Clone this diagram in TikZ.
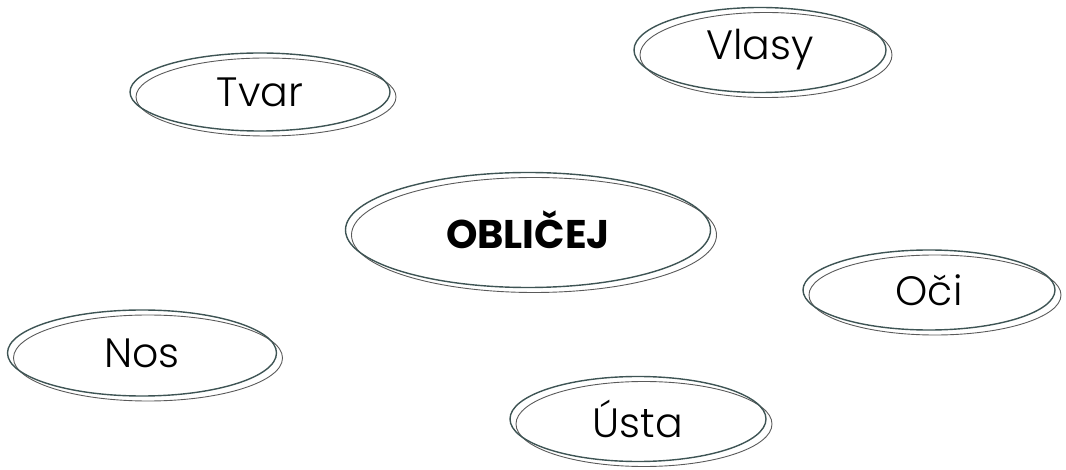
\documentclass[tikz,border=0pt]{standalone}
\usepackage{fontspec}
\setmainfont{Poppins Light}[BoldFont={Poppins Bold}]
\usetikzlibrary{shapes.geometric,shadows}
\definecolor{slate}{HTML}{3E5454}
\definecolor{echogray}{HTML}{5A5A5A}

\begin{document}
\begin{tikzpicture}[x=1pt,y=-1pt,
    bubble/.style={
      % The shape:
      ellipse,inner sep=0pt,
      % The rest
      line width=1.4pt,draw=slate,
      copy shadow={shadow xshift=6pt,shadow yshift=-5pt,
        draw=echogray,line width=0.9pt,fill=none},
      font=\fontsize{41}{44}\selectfont}]
  \useasboundingbox (0,0) rectangle (1066,470);
  \node [bubble,minimum width=260,minimum height=78] (tvar) at (260,92) {Tvar};
  \node [bubble,minimum width=252,minimum height=85] (vlasy) at (760,50) {Vlasy};
  \node [bubble,minimum width=365,minimum height=115,font=\fontsize{40}{44}\selectfont\bfseries] (oblicej) at (528,230) {OBLIČEJ};
  \node [bubble,minimum width=252,minimum height=80] (oci) at (929,290) {Oči};
  \node [bubble,minimum width=269,minimum height=86] (nos) at (142,353) {Nos};
  \node [bubble,minimum width=256,minimum height=85] (usta) at (638,419) {Ústa};
\end{tikzpicture}
\end{document}
